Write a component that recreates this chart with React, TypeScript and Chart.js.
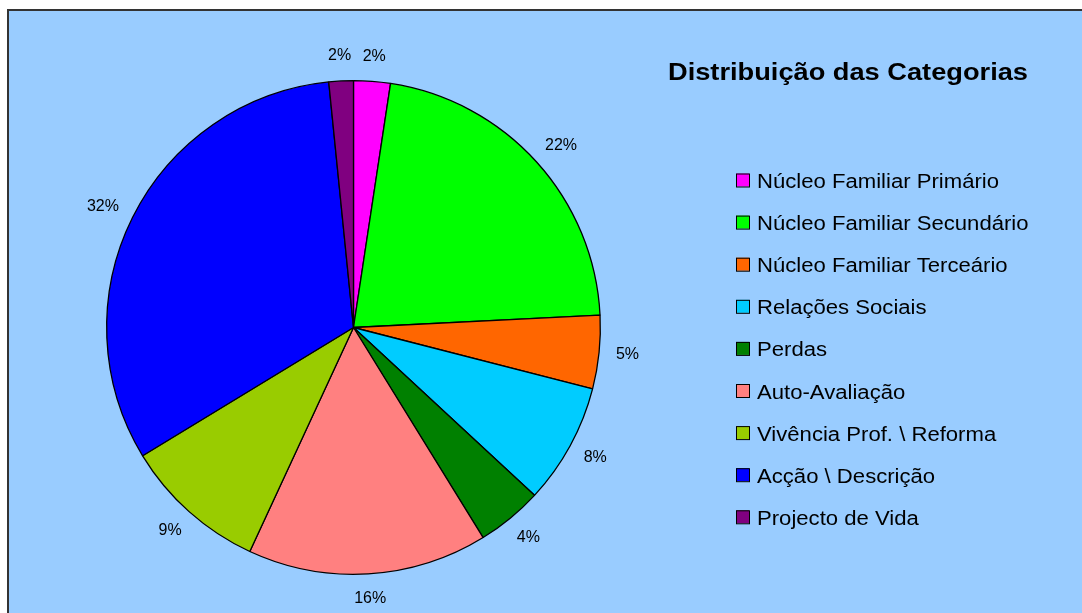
import React, { useEffect, useRef } from "react";
import { Chart, registerables } from "chart.js";

Chart.register(...registerables);

const categories = [
  "Núcleo Familiar Primário",
  "Núcleo Familiar Secundário",
  "Núcleo Familiar Terceário",
  "Relações Sociais",
  "Perdas",
  "Auto-Avaliação",
  "Vivência Prof. \\ Reforma",
  "Acção \\ Descrição",
  "Projecto de Vida",
];
const shares = [2.4, 21.8, 4.8, 7.9, 4.3, 15.7, 9.4, 32.1, 1.6];
const sliceColors = [
  "#FF00FF",
  "#00FF00",
  "#FF6600",
  "#00CCFF",
  "#008000",
  "#FF8080",
  "#99CC00",
  "#0000FF",
  "#800080",
];
const chartTitle = "Distribuição das Categorias";

const FONT = "'Liberation Sans', Arial, sans-serif";

const framePlugin = {
  id: "frame",
  beforeDraw(chart: any) {
    const ctx = chart.ctx;
    ctx.save();
    ctx.fillStyle = "#ffffff";
    ctx.fillRect(0, 0, chart.width, chart.height);
    ctx.fillStyle = "#99CCFF";
    ctx.fillRect(9, 11, chart.width, chart.height);
    ctx.strokeStyle = "#333333";
    ctx.lineWidth = 2;
    ctx.strokeRect(8, 10, chart.width + 20, chart.height + 20);
    ctx.restore();
  },
};

const labelsPlugin = {
  id: "sliceLabels",
  afterDatasetsDraw(chart: any) {
    const ctx = chart.ctx;
    const meta = chart.getDatasetMeta(0);
    const data = chart.data.datasets[0].data as number[];
    const total = data.reduce((a, b) => a + b, 0);
    ctx.save();
    ctx.font = `16px ${FONT}`;
    ctx.fillStyle = "#000000";
    ctx.textAlign = "center";
    ctx.textBaseline = "middle";
    meta.data.forEach((arc: any, i: number) => {
      const { x, y, startAngle, endAngle, outerRadius } = arc.getProps(
        ["x", "y", "startAngle", "endAngle", "outerRadius"],
        true
      );
      const mid = (startAngle + endAngle) / 2;
      const ux = Math.cos(mid);
      const uy = Math.sin(mid);
      const text = Math.round((data[i] / total) * 100) + "%";
      const w = ctx.measureText(text).width;
      const d = outerRadius + 17;
      const cx = x + d * ux + (w / 2) * ux;
      const cy = y + d * uy + 8 * uy;
      ctx.fillText(text, cx, cy);
    });
    ctx.restore();
  },
};

function drawStretched(ctx: any, text: string, x: number, y: number, sx: number) {
  ctx.save();
  ctx.translate(x, y);
  ctx.scale(sx, 1);
  ctx.fillText(text, 0, 0);
  ctx.restore();
}

const sideLegendPlugin = {
  id: "sideLegend",
  afterDraw(chart: any) {
    const ctx = chart.ctx;
    ctx.save();
    ctx.textAlign = "left";
    ctx.textBaseline = "alphabetic";
    // title
    ctx.fillStyle = "#000000";
    ctx.font = `bold 23px ${FONT}`;
    const tsx = 360 / ctx.measureText(chartTitle).width;
    drawStretched(ctx, chartTitle, 668, 80, tsx);
    // legend
    ctx.font = `20px ${FONT}`;
    const labels = chart.data.labels as string[];
    const colors = chart.data.datasets[0].backgroundColor as string[];
    const lsx = 242 / ctx.measureText(labels[0]).width;
    labels.forEach((lab, i) => {
      const cy = 180.5 + 42.1 * i;
      ctx.fillStyle = colors[i];
      ctx.fillRect(736, cy - 7, 13, 13);
      ctx.strokeStyle = "#000000";
      ctx.lineWidth = 1;
      ctx.strokeRect(736.5, cy - 6.5, 13, 13);
      ctx.fillStyle = "#000000";
      drawStretched(ctx, lab, 757, cy + 7.5, lsx);
    });
    ctx.restore();
  },
};

export default function App() {
  const ref = useRef<HTMLCanvasElement>(null);
  useEffect(() => {
    if (!ref.current) return;
    const chart = new Chart(ref.current, {
      type: "pie",
      data: {
        labels: categories,
        datasets: [
          {
            data: shares,
            backgroundColor: sliceColors,
            borderColor: "#000000",
            borderWidth: 1.3,
          },
        ],
      },
      options: {
        responsive: false,
        animation: false,
        devicePixelRatio: 1,
        layout: { padding: { left: 106, top: 80, right: 481, bottom: 38 } },
        plugins: {
          legend: { display: false },
          title: { display: false },
          tooltip: { enabled: false },
        },
      },
      plugins: [framePlugin, labelsPlugin, sideLegendPlugin],
    });
    return () => chart.destroy();
  }, []);
  return (
    <div style={{ position: "absolute", left: 0, top: 0, width: 1082, height: 613 }}>
      <canvas ref={ref} width={1082} height={613} style={{ display: "block" }} />
    </div>
  );
}
